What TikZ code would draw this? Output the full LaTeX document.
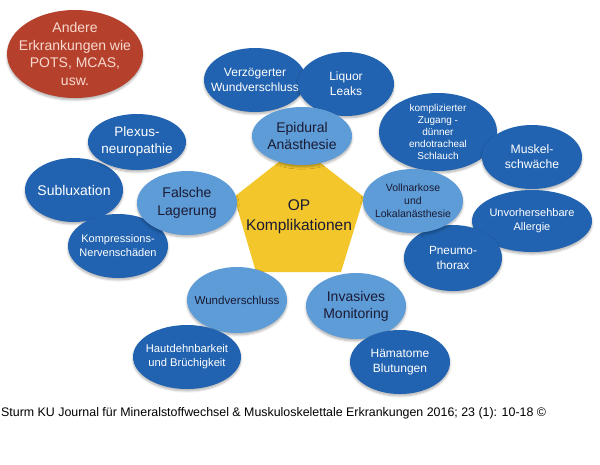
\documentclass[tikz,border=0pt]{standalone}
\usepackage{fontspec}
\setmainfont{Liberation Sans}
\usetikzlibrary{shapes.geometric,shadows.blur}
\definecolor{dkblue}{HTML}{2163B0}
\definecolor{ltblue}{HTML}{5E9CD8}
\definecolor{redov}{HTML}{B5412C}
\definecolor{yelpent}{HTML}{F3C62B}
\definecolor{dktext}{HTML}{1A1A33}
\definecolor{redtext}{HTML}{F7D9CF}
\tikzset{
  bub/.style={ellipse, inner sep=-40pt, align=center,
    blur shadow={shadow blur steps=6, shadow xshift=0pt, shadow yshift=-2pt, shadow opacity=30}},
  dk/.style={bub, fill=dkblue, text=white},
  lt/.style={bub, fill=ltblue, text=dktext},
}
\begin{document}
\begin{tikzpicture}[x=1pt,y=-1pt]
\useasboundingbox (0,0) rectangle (600,464);
% red
\node[bub, fill=redov, text=redtext, minimum width=136pt, minimum height=88pt, font=\fontsize{14}{17.7}\selectfont] (andere) at (75,54) {Andere\\Erkrankungen wie\\POTS, MCAS,\\usw.};
% pentagon
\coordinate (pt) at (299,146);
\coordinate (pl) at (234,197);
\coordinate (pr) at (364,197);
\coordinate (pbr) at (341,272);
\coordinate (pbl) at (256,272);
\fill[yelpent] (pt) -- (pr) -- (pbr) -- (pbl) -- (pl) -- cycle;
\node[font=\fontsize{15.5}{20}\selectfont, text=dktext, align=center] (op) at (299,217) {OP\\Komplikationen};
% dark blue ellipses
\node[dk, minimum width=102pt, minimum height=64pt, font=\fontsize{12}{14.5}\selectfont] (verz) at (255,80) {Verzögerter\\Wundverschluss};
\node[dk, minimum width=96pt, minimum height=64pt, font=\fontsize{12}{15}\selectfont] (liquor) at (346,84) {Liquor\\Leaks};
\node[dk, minimum width=118pt, minimum height=78pt, font=\fontsize{10}{11.8}\selectfont] (kompl) at (438,132) {komplizierter\\Zugang -\\dünner\\endotracheal\\Schlauch};
\node[dk, minimum width=100pt, minimum height=64pt, font=\fontsize{12.2}{15}\selectfont] (muskel) at (532,157) {Muskel-\\schwäche};
\node[dk, minimum width=120pt, minimum height=62pt, font=\fontsize{11}{14}\selectfont] (allergie) at (532,221) {Unvorhersehbare\\Allergie};
\node[dk, minimum width=98pt, minimum height=66pt, font=\fontsize{11.8}{15}\selectfont] (pneumo) at (453,258) {Pneumo-\\thorax};
\node[dk, minimum width=98pt, minimum height=64pt, font=\fontsize{14}{17}\selectfont] (sublux) at (74,190) {Subluxation};
\node[dk, minimum width=98pt, minimum height=56pt, font=\fontsize{13.5}{17}\selectfont] (plexus) at (137,142) {Plexus-\\neuropathie};
\node[dk, minimum width=100pt, minimum height=64pt, font=\fontsize{11}{14}\selectfont] (kompr) at (118,246) {Kompressions-\\Nervenschäden};
% light blue ellipses
\node[lt, minimum width=100pt, minimum height=58pt, font=\fontsize{14}{17}\selectfont] (epi) at (302,136) {Epidural\\Anästhesie};
\node[lt, minimum width=100pt, minimum height=64pt, font=\fontsize{14}{17.5}\selectfont] (falsche) at (187,203) {Falsche\\Lagerung};
\node[lt, minimum width=100pt, minimum height=64pt, font=\fontsize{10.5}{12.8}\selectfont] (voll) at (413,201) {Vollnarkose\\und\\Lokalanästhesie};
\node[lt, minimum width=100pt, minimum height=66pt, font=\fontsize{11.6}{14}\selectfont] (wund) at (237,300) {Wundverschluss};
\node[lt, minimum width=100pt, minimum height=66pt, font=\fontsize{14}{17}\selectfont] (invas) at (356,306) {Invasives\\Monitoring};
% dark on top
\node[dk, minimum width=108pt, minimum height=64pt, font=\fontsize{11.2}{14}\selectfont] (haut) at (187,357) {Hautdehnbarkeit\\und Brüchigkeit};
\node[dk, minimum width=100pt, minimum height=64pt, font=\fontsize{12}{14.5}\selectfont] (haema) at (400,362) {Hämatome\\Blutungen};
% caption
\node[anchor=west, inner sep=0pt, font=\fontsize{12.4}{14}\selectfont] (cap) at (1,413) {Sturm KU Journal für Mineralstoffwechsel \& Muskuloskelettale Erkrankungen 2016; 23 (1): 10-18 ©};
\end{tikzpicture}
\end{document}
